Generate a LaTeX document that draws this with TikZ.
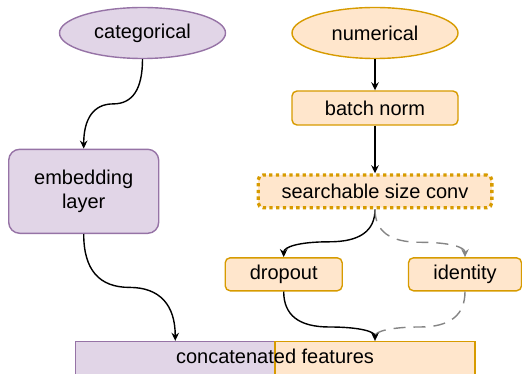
\documentclass[tikz,border=0pt]{standalone}
\usepackage{fontspec}
\setmainfont{Liberation Sans}
\usetikzlibrary{shapes.geometric, arrows.meta, calc}
\definecolor{catP}{HTML}{E1D5E7}
\definecolor{catB}{HTML}{9673A6}
\definecolor{numO}{HTML}{FFE6CC}
\definecolor{numB}{HTML}{D79B00}
\definecolor{skipG}{HTML}{858585}

% smooth orthogonal bend: down, across at a fraction of the drop, down again
\tikzset{
  curvy/.style={to path={
    let \p1=(\tikztostart), \p2=(\tikztotarget),
        \n1={(\x2-\x1)/3}, \n2={2/3*#1*(\y2-\y1)}, \n3={2/3*(1-#1)*(\y2-\y1)},
        \p3=({(\x1+\x2)/2},{\y1+#1*(\y2-\y1)})
    in .. controls +(0,\n2) and +(-\n1,0) .. (\p3)
       .. controls +(\n1,0) and +(0,-\n3) .. (\p2) \tikztonodes}},
  curvy/.default=0.5
}

\begin{document}
\begin{tikzpicture}[x=1pt, y=1pt, font=\fontsize{20}{24}\selectfont,
  blob/.style={ellipse, draw, line width=1.4pt, inner sep=0pt,
    minimum width=166pt, minimum height=51pt},
  box/.style={draw=numB, fill=numO, line width=1.4pt, rounded corners=5pt,
    inner sep=0pt, minimum height=33pt},
  link/.style={-{Stealth[length=8pt, width=7.5pt]}, line width=1.4pt},
  skip/.style={link, skipG, dash pattern=on 12pt off 8pt}]
  \useasboundingbox (0,0) rectangle (522,373);
  \clip (0,0) rectangle (522,373);

  % inputs
  \node[blob, draw=catB, fill=catP] (cat) at (142.5,340) {categorical};
  \node[blob, draw=numB, fill=numO] (num) at (375,340) {numerical};

  % numerical branch
  \node[box, minimum width=166pt, minimum height=34pt] (bn) at (375,265) {batch norm};
  \node[box, minimum width=233.7pt, minimum height=32.7pt, line width=3.3pt,
    dash pattern=on 3.3pt off 3.4pt] (conv) at (375,181.7) {searchable size conv};
  \node[box, minimum width=117pt] (drop) at (283.7,98.7) {dropout};
  \node[box, minimum width=113pt] (ident) at (465,98.7) {identity};

  % categorical branch
  \node[box, draw=catB, fill=catP, rounded corners=11pt, minimum width=150pt,
    minimum height=84pt, align=center] (emb) at (83.7,181.7) {embedding\\layer};

  % output, half per branch
  \node[draw=catB, fill=catP, line width=1.4pt, minimum width=199.5pt,
    minimum height=34.5pt] (featL) at (175.25,14.25) {};
  \node[draw=numB, fill=numO, line width=1.4pt, minimum width=200pt,
    minimum height=34.5pt] (featR) at (375,14.25) {};
  \node (feat) at (275,16.3) {concatenated features};

  % connectors
  \draw[link] (num) -- (bn);
  \draw[link] (bn) -- (conv);
  \draw[link] (cat.south) to[curvy] (emb.north);
  \draw[link] (emb.south) to[curvy] (featL.north);
  \draw[link] (conv.south) to[curvy=0.68] (drop.north);
  \draw[skip] (conv.south) to[curvy=0.69] (ident.north);
  \draw[skip] (ident.south) to[curvy=0.72] (featR.north);
  \draw[link] (drop.south) to[curvy=0.72] (featR.north);
\end{tikzpicture}
\end{document}
